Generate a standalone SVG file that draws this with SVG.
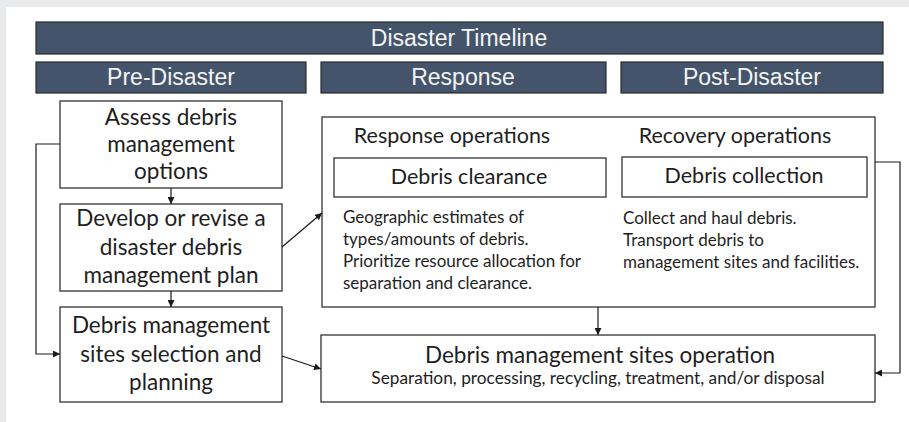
<svg xmlns="http://www.w3.org/2000/svg" width="909" height="422" viewBox="0 0 909 422">
<defs>
<marker id="ah" viewBox="0 0 10 10" refX="10" refY="5" markerWidth="7" markerHeight="7" markerUnits="userSpaceOnUse" orient="auto">
<path d="M0,0 L10,5 L0,10 z" fill="#1a1a1a"/>
</marker>
</defs>
<style>
.bar{fill:#44546a;stroke:#2b2b2b;stroke-width:1.2}
.bt{font-family:"Liberation Sans",Arial,sans-serif;font-size:23px;fill:#f4f4f4;text-anchor:middle}
.box{fill:#ffffff;stroke:#333333;stroke-width:1.3}
.t{font-family:Lato,"Noto Sans",sans-serif;fill:#1e1e1e}
.c{text-anchor:middle}
.big{font-size:22.5px}
.mid{font-size:21.5px}
.sm{font-size:17px}
.sub{font-size:17.3px}
.ln{fill:none;stroke:#1a1a1a;stroke-width:1.2}
</style>
<rect x="0" y="0" width="909" height="422" fill="#e9eaec"/>
<rect x="6" y="7" width="903" height="415" fill="#ffffff"/>

<g id="title">
<rect class="bar" x="36" y="22" width="847" height="32"/>
<text class="bt" x="459" y="46">Disaster Timeline</text>
</g>
<g id="pre-disaster">
<rect class="bar" x="36" y="62" width="270" height="31"/>
<text class="bt" x="171" y="85">Pre-Disaster</text>
</g>
<g id="response">
<rect class="bar" x="321" y="62" width="285" height="31"/>
<text class="bt" x="463" y="85">Response</text>
</g>
<g id="post-disaster">
<rect class="bar" x="621" y="62" width="262" height="31"/>
<text class="bt" x="752" y="85">Post-Disaster</text>
</g>

<g id="assess">
<rect class="box" x="60" y="101" width="222" height="87"/>
<text class="t c big" x="171" y="125">Assess debris</text>
<text class="t c big" x="171" y="152">management</text>
<text class="t c big" x="171" y="179">options</text>
</g>
<g id="develop">
<rect class="box" x="60" y="204" width="222" height="87"/>
<text class="t c big" x="171" y="226">Develop or revise a</text>
<text class="t c big" x="171" y="255">disaster debris</text>
<text class="t c big" x="171" y="283">management plan</text>
</g>
<g id="sites">
<rect class="box" x="60" y="307" width="222" height="95"/>
<text class="t c big" x="171" y="333">Debris management</text>
<text class="t c big" x="171" y="362">sites selection and</text>
<text class="t c big" x="171" y="390">planning</text>
</g>

<g id="operations">
<rect class="box" x="322" y="117" width="553" height="190"/>
<text class="t c mid" x="452" y="143">Response operations</text>
<text class="t c mid" x="735" y="143">Recovery operations</text>
</g>
<g id="clearance">
<rect class="box" x="334" y="158" width="272" height="39"/>
<text class="t c mid" x="469" y="184">Debris clearance</text>
<text class="t sm" x="343" y="223">Geographic estimates of</text>
<text class="t sm" x="343" y="245">types/amounts of debris.</text>
<text class="t sm" x="343" y="267">Prioritize resource allocation for</text>
<text class="t sm" x="343" y="289">separation and clearance.</text>
</g>
<g id="collection">
<rect class="box" x="622" y="157" width="245" height="40"/>
<text class="t c mid" x="744" y="183">Debris collection</text>
<text class="t sm" x="623" y="224">Collect and haul debris.</text>
<text class="t sm" x="623" y="246">Transport debris to</text>
<text class="t sm" x="623" y="268">management sites and facilities.</text>
</g>
<g id="sites-operation">
<rect class="box" x="321" y="335" width="554" height="67"/>
<text class="t c big" x="600" y="363">Debris management sites operation</text>
<text class="t c sub" x="598" y="384">Separation, processing, recycling, treatment, and/or disposal</text>
</g>

<g id="connectors">
<path class="ln" d="M171,188 V204" marker-end="url(#ah)"/>
<path class="ln" d="M171,291 V307" marker-end="url(#ah)"/>
<path class="ln" d="M60,144 H36 V354 H60" marker-end="url(#ah)"/>
<path class="ln" d="M282,247 L322,213" marker-end="url(#ah)"/>
<path class="ln" d="M282,356 L321,369" marker-end="url(#ah)"/>
<path class="ln" d="M598,307 V335" marker-end="url(#ah)"/>
<path class="ln" d="M875,162 H900 V373 H875" marker-end="url(#ah)"/>
</g>
</svg>
